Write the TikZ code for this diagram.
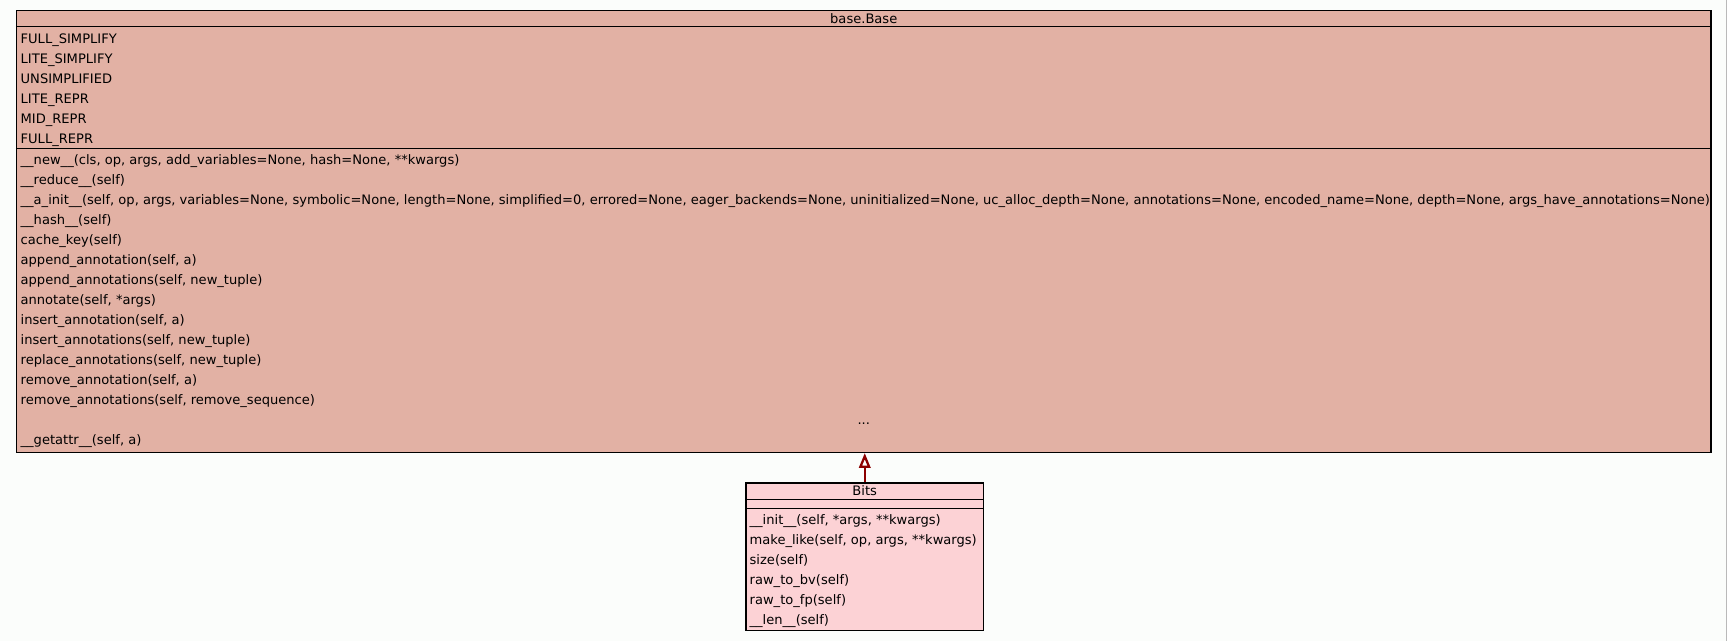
\documentclass[tikz,border=0pt]{standalone}
\usepackage{fontspec}
\setmainfont{DejaVu Sans}
\usetikzlibrary{calc,arrows.meta}
\definecolor{basefill}{RGB}{226,177,164}
\definecolor{bitsfill}{RGB}{252,210,213}
\definecolor{inherit}{RGB}{139,0,0}
\definecolor{paper}{RGB}{251,253,251}
\begin{document}
\begin{tikzpicture}[x=0.75pt, y=-0.75pt, font=\fontsize{9.8}{12}\selectfont,
	classbox/.style={draw, line width=0.9pt, inner sep=0pt},
	member/.style={anchor=base west, inner sep=0pt},
	title/.style={anchor=base, inner sep=0pt},
	inherits/.style={draw=inherit, line width=1.7pt, -{Triangle[open, length=11pt, width=8.5pt]}}]
	\fill[paper] (0,0) rectangle (1727,641);
	\useasboundingbox (0,0) rectangle (1727,641);
	\draw[gray!55, line width=0.75pt] (1726.5,0) -- (1726.5,641);
	% classes
	\node[classbox, fill=basefill, minimum width=1270.875pt, minimum height=331.5pt] (base) at (863.75,231.5) {};
	\node[classbox, fill=bitsfill, minimum width=178.125pt, minimum height=110.625pt] (bits) at (864.75,556.75) {};
	% compartments
	\draw[line width=0.9pt] ($(base.north west)+(0,17)$) -- ($(base.north east)+(0,17)$);
	\draw[line width=0.9pt] ($(base.north west)+(0,138.5)$) -- ($(base.north east)+(0,138.5)$);
	\draw[line width=0.9pt] ($(bits.north west)+(0,17)$) -- ($(bits.north east)+(0,17)$);
	\draw[line width=0.9pt] ($(bits.north west)+(0,25.7)$) -- ($(bits.north east)+(0,25.7)$);
	\node[title] (basename) at ($(base.north)+(0,14)$) {base.Base};
	\node[title] (bitsname) at ($(bits.north)+(0,13)$) {Bits};
	% base.Base members
	\foreach \txt [count=\i from 0] in {FULL\_SIMPLIFY, LITE\_SIMPLIFY, UNSIMPLIFIED, LITE\_REPR, MID\_REPR, FULL\_REPR}
		\node[member] (attr-\i) at ($(base.north west)+(4.5,33.5+20*\i)$) {\txt};
	\foreach \txt [count=\i from 0] in {
		{\_\_new\_\_(cls, op, args, add\_variables=None, hash=None, **kwargs)},
		{\_\_reduce\_\_(self)},
		{\_\_a\_init\_\_(self, op, args, variables=None, symbolic=None, length=None, simplified=0, errored=None, eager\_backends=None, uninitialized=None, uc\_alloc\_depth=None, annotations=None, encoded\_name=None, depth=None, args\_have\_annotations=None)},
		{\_\_hash\_\_(self)},
		{cache\_key(self)},
		{append\_annotation(self, a)},
		{append\_annotations(self, new\_tuple)},
		{annotate(self, *args)},
		{insert\_annotation(self, a)},
		{insert\_annotations(self, new\_tuple)},
		{replace\_annotations(self, new\_tuple)},
		{remove\_annotation(self, a)},
		{remove\_annotations(self, remove\_sequence)}}
		\node[member] (meth-\i) at ($(base.north west)+(4.5,154.8+20*\i)$) {\txt};
	\node[title] (more) at ($(base.north)+(0,414.8)$) {...};
	\node[member] (getattr) at ($(base.north west)+(4.5,434.8)$) {\_\_getattr\_\_(self, a)};
	% Bits members
	\foreach \txt [count=\i from 0] in {
		{\_\_init\_\_(self, *args, **kwargs)},
		{make\_like(self, op, args, **kwargs)},
		{size(self)},
		{raw\_to\_bv(self)},
		{raw\_to\_fp(self)},
		{\_\_len\_\_(self)}}
		\node[member] (bitsmeth-\i) at ($(bits.north west)+(4,41.8+20*\i)$) {\txt};
	% inheritance
	\draw[inherits] (bits.north) -- (bits.north |- base.south);
\end{tikzpicture}
\end{document}
